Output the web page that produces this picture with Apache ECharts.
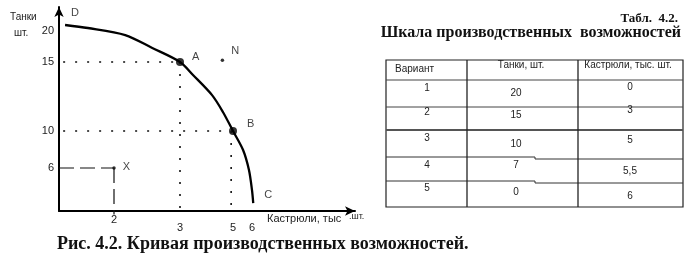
<!DOCTYPE html>
<html>
<head>
<meta charset="utf-8">
<script src="https://cdn.jsdelivr.net/npm/echarts@6/dist/echarts.min.js"></script>
<style>
html,body{margin:0;padding:0;background:#fff;}
#chart{width:695px;height:270px;}
</style>
</head>
<body>
<div id="chart"></div>
<script>
// ---------- data ----------
const variants = [1, 2, 3, 4, 5];
const tanks = [20, 15, 10, 7, 0];          // Танки, шт.
const pots = [0, 3, 5, 5.5, 6];            // Кастрюли, тыс. шт.
const tableHeader = ['Вариант', 'Танки, шт.', 'Кастрюли, тыс. шт.'];

// the drawn curve
const curvePots  = [0.22, 1.05, 2.17, 2.58, 3.0, 3.49, 4.21, 4.62, 5.0, 5.53, 5.84, 6.0, 6.05];
const curveTanks = [20.8, 20.4, 19.35, 17.26, 15.0, 14.06, 12.6, 11.38, 10.0, 7.95, 5.72, 2.9, 1.1];

const potsTicks = [2, 3, 5, 6];
const tanksTicks = [6, 10, 15, 20];

const pointNames = ['D', 'A', 'B', 'C', 'N', 'X'];
const pointPots  = [0.22, 3, 5, 6.05, 4.6, 2];
const pointTanks = [20.8, 15, 10, 1.1, 15.3, 6];

// the figure's axes are schematic (not to scale): knots of the axis scale
const xScaleVals = [0, 2, 3, 5, 6, 7.5];
const xScaleAt   = [0, 55, 121, 174, 193, 230];
const yScaleVals = [0, 6, 10, 15, 20, 22];
const yScaleAt   = [0, 43, 80, 149, 180, 195];

function warp(v, vals, at) {
  for (let i = 0; i < vals.length - 1; i++) {
    if (v <= vals[i + 1] || i === vals.length - 2) {
      const t = (v - vals[i]) / (vals[i + 1] - vals[i]);
      return at[i] + t * (at[i + 1] - at[i]);
    }
  }
}
const wx = v => warp(v, xScaleVals, xScaleAt);
const wy = v => warp(v, yScaleVals, yScaleAt);
const pt = (x, y) => [wx(x), wy(y)];

const fmtNum = v => String(v).replace('.', ',');

// ---------- chart ----------
const chart = echarts.init(document.getElementById('chart'), null, {renderer: 'canvas'});

const sans = 'Liberation Sans, Arial, sans-serif';
const serif = 'Liberation Serif, Times New Roman, serif';

const curveData = curvePots.map((p, i) => pt(p, curveTanks[i]));
const A = pt(pots[1], tanks[1]);
const B = pt(pots[2], tanks[2]);

const dotStyle = {color: '#111', width: 1.6, type: [2, 10]};
const dashStyle = {color: '#111', width: 1.2, type: [15, 6]};

const labelOffsets = {D: [1, -12], A: [3, -5], B: [5, -7], C: [6, -8], N: [2, -9], X: [2, -1]};
const labelData = pointNames.map((n, i) => {
  const isBig = (n === 'A' || n === 'B');
  const isSmall = (n === 'N' || n === 'X');
  return {
    value: pt(pointPots[i], pointTanks[i]),
    name: n,
    symbolSize: isBig ? 8 : (isSmall ? 3.5 : 0),
    label: {show: true, position: 'right', formatter: n, offset: labelOffsets[n],
      color: '#111', fontFamily: sans, fontSize: 11}
  };
});

// table graphic
const tbl = {x0: 386, x1: 683, cols: [386, 467, 578, 683], rows: [60, 80, 107, 130, 158, 182, 207]};
const colCx = [427, 516, 630];
const graphics = [];
graphics.push({type: 'rect', shape: {x: tbl.x0, y: tbl.rows[0], width: tbl.x1 - tbl.x0, height: tbl.rows[6] - tbl.rows[0]},
  style: {fill: 'none', stroke: '#222', lineWidth: 1.2}});
[1, 2, 4, 5].forEach(r => {
  if (r === 4 || r === 5) {
    graphics.push({type: 'polyline', shape: {points: [[tbl.x0, tbl.rows[r] - 1], [535, tbl.rows[r] - 1], [535, tbl.rows[r] + 1], [tbl.x1, tbl.rows[r] + 1]]},
      style: {stroke: '#333', lineWidth: 1, fill: 'none'}});
  } else {
    graphics.push({type: 'line', shape: {x1: tbl.x0, y1: tbl.rows[r], x2: tbl.x1, y2: tbl.rows[r]}, style: {stroke: '#444', lineWidth: 1}});
  }
});
graphics.push({type: 'line', shape: {x1: tbl.x0, y1: tbl.rows[3], x2: tbl.x1, y2: tbl.rows[3]}, style: {stroke: '#555', lineWidth: 2}});
[1, 2].forEach(c => graphics.push({type: 'line', shape: {x1: tbl.cols[c], y1: tbl.rows[0], x2: tbl.cols[c], y2: tbl.rows[6]}, style: {stroke: '#222', lineWidth: 1.3}}));
// header
const headX = [395, 521, 628];
tableHeader.forEach((h, c) => graphics.push({type: 'text', x: headX[c], y: c === 0 ? 69 : 65,
  style: {text: h, fill: '#222', font: '10px ' + sans, textAlign: c === 0 ? 'left' : 'center', textVerticalAlign: 'middle'}}));
const rowsVals = variants.map((v, i) => [String(v), fmtNum(tanks[i]), fmtNum(pots[i])]);
const cellDyRows = [[-5, 0, -6], [-6, -3, -8], [-6, 0, -4], [-5, -5, 1], [-6, -2, 2]];
rowsVals.forEach((row, r) => {
  const cy = (tbl.rows[r + 1] + tbl.rows[r + 2]) / 2;
  row.forEach((t, c) => graphics.push({type: 'text', x: colCx[c], y: cy + cellDyRows[r][c],
    style: {text: t, fill: '#222', font: '10px ' + sans, textAlign: 'center', textVerticalAlign: 'middle'}}));
});
// titles
graphics.push({type: 'text', x: 678, y: 19, style: {text: 'Табл.  4.2.', fill: '#111', font: 'bold 13px ' + serif, textAlign: 'right', textVerticalAlign: 'middle'}});
graphics.push({type: 'text', x: 681, y: 33, style: {text: 'Шкала производственных  возможностей', fill: '#111', font: 'bold 16px ' + serif, textAlign: 'right', textVerticalAlign: 'middle'}});
// caption
graphics.push({type: 'text', x: 57, y: 244, style: {text: 'Рис. 4.2. Кривая производственных возможностей.', fill: '#111', font: 'bold 18px ' + serif, textAlign: 'left', textVerticalAlign: 'middle'}});
// axis names
graphics.push({type: 'text', x: 10, y: 17, style: {text: 'Танки', fill: '#222', font: '10px ' + sans, textAlign: 'left', textVerticalAlign: 'middle'}});
graphics.push({type: 'text', x: 14, y: 33, style: {text: 'шт.', fill: '#222', font: '10px ' + sans, textAlign: 'left', textVerticalAlign: 'middle'}});
graphics.push({type: 'text', x: 267, y: 219, style: {text: 'Кастрюли, тыс', fill: '#222', font: '11px ' + sans, textAlign: 'left', textVerticalAlign: 'middle'}});
graphics.push({type: 'text', x: 349, y: 217, style: {text: '.шт.', fill: '#222', font: '9px ' + sans, textAlign: 'left', textVerticalAlign: 'middle'}});

const lineSeries = (data, style) => ({type: 'line', data, symbol: 'none', lineStyle: style, silent: true, clip: false, animation: false});

const option = {
  animation: false,
  grid: {left: 59, top: 7, width: 296, height: 204, containLabel: false},
  xAxis: {
    type: 'value', min: 0, max: 296,
    axisLine: {lineStyle: {color: '#000', width: 2}, symbol: ['none', 'arrow'], symbolSize: [7, 10]},
    axisTick: {show: false},
    splitLine: {show: false},
    axisLabel: {
      customValues: potsTicks.map(wx),
      margin: 3,
      formatter: u => {
        const v = potsTicks.find(t => Math.abs(wx(t) - u) < 0.01);
        return v === potsTicks[0] ? '{a|' + v + '}' : '{b|' + v + '}';
      },
      rich: {a: {fontSize: 11, fontFamily: sans, color: '#222', padding: [0, 0, 0, 0]},
             b: {fontSize: 11, fontFamily: sans, color: '#222', padding: [8, 0, 0, 0]}}
    }
  },
  yAxis: {
    type: 'value', min: 0, max: 204,
    axisLine: {lineStyle: {color: '#000', width: 2}, symbol: ['none', 'arrow'], symbolSize: [7, 10]},
    axisTick: {show: false},
    splitLine: {show: false},
    axisLabel: {
      customValues: tanksTicks.map(wy),
      margin: 5,
      color: '#222', fontSize: 11, fontFamily: sans,
      formatter: u => String(tanksTicks.find(t => Math.abs(wy(t) - u) < 0.01))
    }
  },
  series: [
    lineSeries([pt(0.15, tanks[1]), A], dotStyle),
    lineSeries([A, pt(pots[1], 0)], dotStyle),
    lineSeries([pt(0.15, tanks[2]), B], dotStyle),
    lineSeries([pt(4.93, tanks[2]), pt(4.93, 0)], dotStyle),
    lineSeries([pt(0, pointTanks[5]), pt(pointPots[5], pointTanks[5])], dashStyle),
    lineSeries([pt(pointPots[5], pointTanks[5]), pt(pointPots[5], -0.5)], dashStyle),
    {type: 'line', data: curveData, smooth: 0.3, symbol: 'none', clip: false,
     lineStyle: {color: '#000', width: 2.3}},
    {type: 'scatter', data: labelData, itemStyle: {color: '#000'}, clip: false}
  ],
  graphic: graphics
};
chart.setOption(option);
</script>
</body>
</html>
